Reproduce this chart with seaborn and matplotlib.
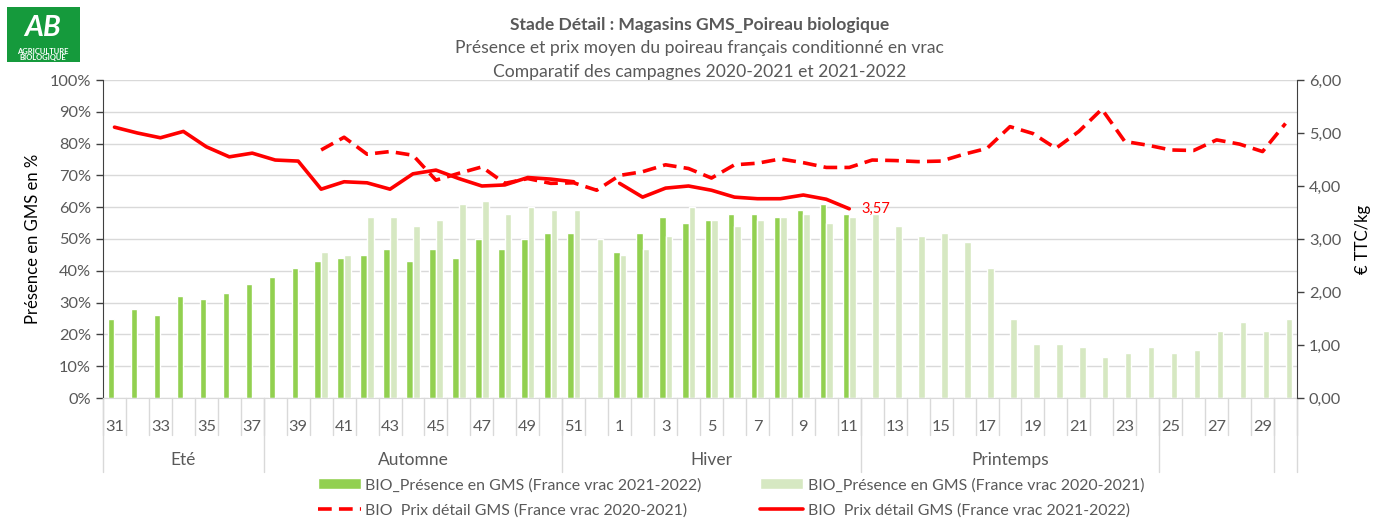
import numpy as np
import pandas as pd
import seaborn as sns
import matplotlib.pyplot as plt
from matplotlib.patches import Rectangle, Patch
from matplotlib.lines import Line2D
from matplotlib.ticker import FuncFormatter

nan = np.nan

# semaines de la campagne (S31 -> S30)
weeks = [31, 32, 33, 34, 35, 36, 37, 38, 39, 40, 41, 42, 43, 44, 45, 46, 47, 48, 49, 50, 51, 52,
         1, 2, 3, 4, 5, 6, 7, 8, 9, 10, 11, 12, 13, 14, 15, 16, 17, 18, 19, 20, 21, 22, 23, 24,
         25, 26, 27, 28, 29, 30]

# présence en GMS (%)
presence_2122 = [25, 28, 26, 32, 31, 33, 36, 38, 41, 43, 44, 45, 47, 43, 47, 44, 50, 47, 50, 52, 52, nan,
                 46, 52, 57, 55, 56, 58, 58, 57, 59, 61, 58, nan, nan, nan, nan, nan, nan, nan, nan,
                 nan, nan, nan, nan, nan, nan, nan, nan, nan, nan, nan]
presence_2021 = [nan, nan, nan, nan, nan, nan, nan, nan, nan, 46, 45, 57, 57, 54, 56, 61, 62, 58, 60, 59, 59, 50,
                 45, 47, 51, 60, 56, 54, 56, 57, 58, 55, 57, 58, 54, 51, 52, 49, 41, 25, 17, 17,
                 16, 13, 14, 16, 14, 15, 21, 24, 21, 25]

# prix détail GMS (€ TTC/kg)
prix_2122 = [5.11, 5.00, 4.91, 5.03, 4.74, 4.55, 4.62, 4.49, 4.47, 3.94, 4.08, 4.06, 3.94, 4.23, 4.30, 4.14,
             4.00, 4.02, 4.16, 4.13, 4.08, nan, 4.05, 3.79, 3.96, 4.00, 3.92, 3.79, 3.76, 3.76, 3.83, 3.75,
             3.57, nan, nan, nan, nan, nan, nan, nan, nan, nan, nan, nan, nan, nan, nan, nan, nan, nan, nan, nan]
prix_2021 = [nan, nan, nan, nan, nan, nan, nan, nan, nan, 4.68, 4.92, 4.60, 4.65, 4.58, 4.11, 4.24, 4.36,
             4.05, 4.14, 4.05, 4.06, 3.92, 4.20, 4.27, 4.40, 4.33, 4.15, 4.40, 4.43, 4.51, 4.44, 4.35,
             4.35, 4.49, 4.48, 4.46, 4.47, 4.60, 4.71, 5.12, 4.99, 4.71, 5.03, 5.45, 4.84, 4.77, 4.68,
             4.67, 4.87, 4.79, 4.65, 5.18]

# saisons : (libellé, nb de semaines)
seasons = [("Eté", 7), ("Automne", 13), ("Hiver", 13), ("Printemps", 13), ("", 5), ("", 1)]

lbl_dark = "BIO_Présence en GMS (France vrac 2021-2022)"
lbl_light = "BIO_Présence en GMS (France vrac 2020-2021)"
lbl_dash = "BIO  Prix détail GMS (France vrac 2020-2021)"
lbl_solid = "BIO  Prix détail GMS (France vrac 2021-2022)"

GREEN = "#92d050"
LIGHT = "#d6e8c2"
RED = "#ff0000"
GRID = "#d9d9d9"
TXT = "#595959"
DASH = (0, (3.8, 2))

sns.set_style("white")
plt.rcParams['font.family'] = ['Lato', 'DejaVu Sans']

df = pd.DataFrame({
    "semaine": [str(w) for w in weeks] * 2,
    "campagne": ["2021-2022"] * len(weeks) + ["2020-2021"] * len(weeks),
    "presence": [v / 100 for v in presence_2122 + presence_2021],
}).dropna()

fig = plt.figure(figsize=(13.83, 5.19), dpi=100)
ax = fig.add_axes([103 / 1383, 1 - 398 / 519, 1194 / 1383, 318 / 519])

sns.barplot(data=df, x="semaine", y="presence", hue="campagne",
            order=[str(w) for w in weeks], hue_order=["2021-2022", "2020-2021"],
            palette=[GREEN, LIGHT], width=0.58, dodge=True, ax=ax, legend=False,
            saturation=1, errorbar=None)

ax.set_ylim(0, 1)
ax.set_yticks(np.arange(0, 1.01, 0.1))
ax.yaxis.set_major_formatter(FuncFormatter(lambda v, p: f"{v * 100:.0f}%"))
ax.grid(axis="y", color=GRID, linewidth=1)
ax.set_axisbelow(True)
ax.set_xlim(-0.5, len(weeks) - 0.5)
ax.set_xlabel("")
ax.set_ylabel("Présence en GMS en %", fontsize=12, color="black", labelpad=6)

# étiquettes semaines : une sur deux
ax.set_xticks(range(len(weeks)))
ax.set_xticklabels([str(w) if i % 2 == 0 else "" for i, w in enumerate(weeks)])
ax.tick_params(axis="x", length=0, pad=16, labelsize=11.8, labelcolor=TXT)
ax.tick_params(axis="y", length=5, width=1, color="#404040", direction="out",
               labelsize=11.8, labelcolor=TXT, left=True)

for s in ["top", "right"]:
    ax.spines[s].set_visible(False)
ax.spines["left"].set_color("#404040")
ax.spines["bottom"].set_color(GRID)

trans = ax.get_xaxis_transform()
# séparateurs de semaines
for k in range(len(weeks) + 1):
    ax.plot([k - 0.5, k - 0.5], [0, -37 / 318], transform=trans, color=GRID, lw=1, clip_on=False)
# séparateurs et libellés de saisons
start = 0
ax.plot([-0.5, -0.5], [0, -74 / 318], transform=trans, color=GRID, lw=1, clip_on=False)
for name, n in seasons:
    end = start + n
    ax.plot([end - 0.5, end - 0.5], [0, -74 / 318], transform=trans, color=GRID, lw=1, clip_on=False)
    ax.text((start + end) / 2 - 0.5, -62 / 318, name, transform=trans, ha="center", va="center",
            fontsize=12.5, color=TXT)
    start = end

# axe secondaire : prix
ax2 = ax.twinx()
xpos = np.arange(len(weeks))
for prix, ls in [(prix_2021, DASH), (prix_2122, "-")]:
    p = np.array(prix, dtype=float)
    seg = np.cumsum(np.isnan(p))
    ok = ~np.isnan(p)
    sns.lineplot(x=xpos[ok], y=p[ok], units=seg[ok], estimator=None, ax=ax2,
                 color=RED, linewidth=2.6, linestyle=ls)

last = max(i for i, v in enumerate(prix_2122) if not np.isnan(v))
ax2.annotate(f"{prix_2122[last]:.2f}".replace(".", ","), (last, prix_2122[last]),
             xytext=(9, 0), textcoords="offset points", color=RED, fontsize=10.5, va="center")

ax2.set_ylim(0, 6)
ax2.set_yticks(range(0, 7))
ax2.yaxis.set_major_formatter(FuncFormatter(lambda v, p: f"{v:.2f}".replace(".", ",")))
ax2.set_xlim(-0.5, len(weeks) - 0.5)
ax2.set_ylabel("€ TTC/kg", fontsize=12, color="black", labelpad=10)
ax2.tick_params(axis="y", length=5, width=1, color="#404040", direction="out",
                labelsize=11.8, labelcolor=TXT, right=True)
for s in ["top", "left", "bottom"]:
    ax2.spines[s].set_visible(False)
ax2.spines["right"].set_color("#404040")

# titres
fig.text(0.506, 1 - 25 / 519, "Stade Détail : Magasins GMS_Poireau biologique", ha="center", va="center",
         fontsize=12.6, fontweight="bold", color=TXT)
fig.text(0.506, 1 - 48 / 519, "Présence et prix moyen du poireau français conditionné en vrac",
         ha="center", va="center", fontsize=12.6, color=TXT)
fig.text(0.506, 1 - 72 / 519, "Comparatif des campagnes 2020-2021 et 2021-2022",
         ha="center", va="center", fontsize=12.6, color=TXT)

# logo AB
fig.patches.append(Rectangle((7 / 1383, 1 - 62 / 519), 73 / 1383, 55 / 519, transform=fig.transFigure,
                             facecolor="#159a3c", edgecolor="none"))
fig.text(43 / 1383, 1 - 28 / 519, "AB", ha="center", va="center", fontsize=21, fontweight="bold",
         style="italic", color="white")
fig.text(43 / 1383, 1 - 51 / 519, "AGRICULTURE", ha="center", va="center", fontsize=5.5,
         fontweight="bold", color="white")
fig.text(43 / 1383, 1 - 57.5 / 519, "BIOLOGIQUE", ha="center", va="center", fontsize=5.5,
         fontweight="bold", color="white")

# légende
handles = [Patch(facecolor=GREEN, label=lbl_dark),
           Line2D([0], [0], color=RED, lw=2.6, linestyle=DASH, label=lbl_dash),
           Patch(facecolor=LIGHT, label=lbl_light),
           Line2D([0], [0], color=RED, lw=2.6, label=lbl_solid)]
fig.legend(handles=handles, loc="center", bbox_to_anchor=(731 / 1383, 1 - 498 / 519), ncol=2,
           frameon=False, fontsize=11.4, handlelength=2.7, handleheight=0.7, columnspacing=3.7,
           labelspacing=0.7, handletextpad=0.3, labelcolor=TXT)

fig.savefig("out.png", dpi=100)
